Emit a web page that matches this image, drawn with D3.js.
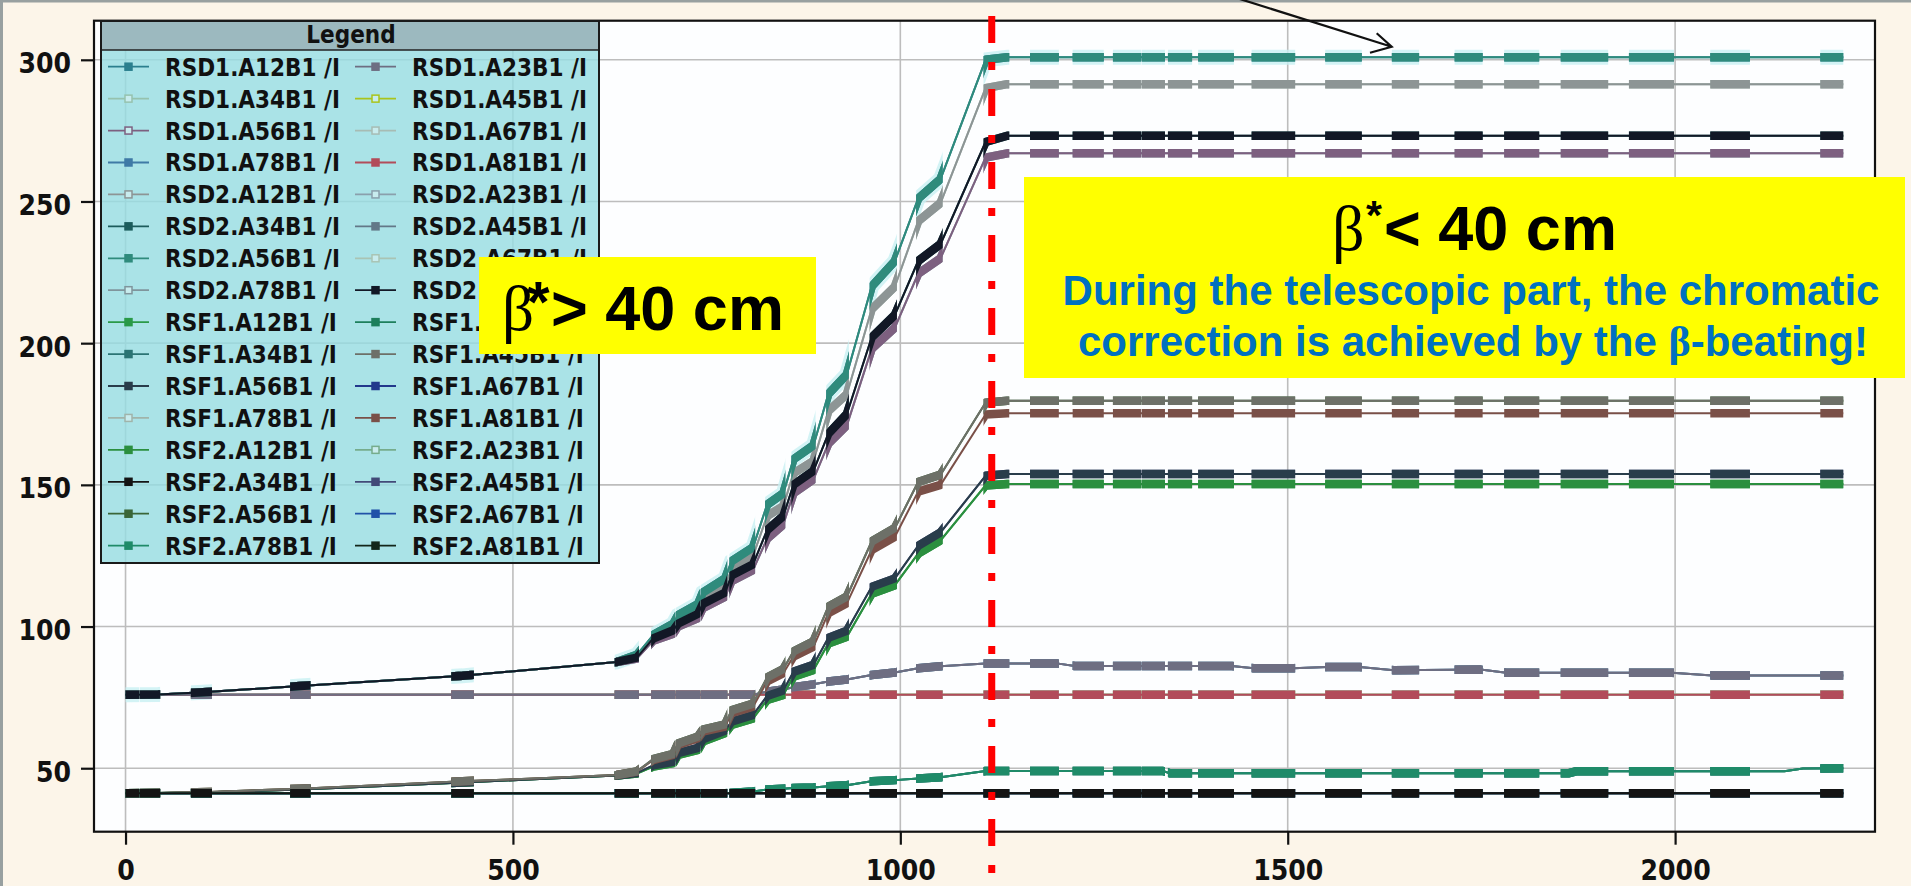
<!DOCTYPE html>
<html>
<head>
<meta charset="utf-8">
<script src="https://cdn.jsdelivr.net/npm/d3@7"></script>
<style>
  html, body { margin: 0; padding: 0; background: #fcf5e9; }
  svg { display: block; }
  .tick-label { font-family: "DejaVu Sans Condensed", "DejaVu Sans", sans-serif; font-stretch: condensed; font-weight: bold; }
</style>
</head>
<body>
<svg id="chart" width="1911" height="886"></svg>
<script>
// ---------------------------------------------------------------
// Data: sextupole circuit currents (A) versus time (s) during the squeeze
// ---------------------------------------------------------------

// time windows in which the logging samples are bunched (shown as thick marks)
const sampleBursts = [
  [-2, 15], [21, 42], [87, 109], [215, 236], [423, 447], [634, 660], [681, 707],
  [713, 739], [745, 774], [782, 810], [828, 849], [862, 888], [907, 931], [963, 993],
  [1023, 1052], [1110, 1138], [1170, 1202], [1225, 1260], [1277, 1308], [1314, 1339],
  [1348, 1374], [1387, 1428], [1456, 1507], [1551, 1593], [1637, 1667], [1718, 1749],
  [1782, 1822], [1855, 1911], [1943, 1996], [2048, 2094], [2190, 2217]
];

// current profiles [time, current]
const levelTeal = [[0,75.9],[42,76.0],[100,76.8],[225,79.0],[435,82.6],[634,87.5],[660,90],[681,97],[707,101],[713,104],[739,108],[745,112],[774,117],[782,123],[810,128],[828,143],[849,147],[862,159],[888,164],[907,182],[931,189],[963,220],[993,229],[1023,251],[1052,258],[1110,300],[1138,300.9],[2217,300.9]];
const levelGrey = [[0,75.9],[42,76.0],[100,76.8],[225,79.0],[435,82.6],[634,87.5],[660,89.5],[681,96],[707,100],[713,102.5],[739,106],[745,110],[774,114.5],[782,120],[810,125],[828,139],[849,142.5],[862,154],[888,158.5],[907,176],[931,182],[963,212],[993,220],[1023,243],[1052,249.5],[1110,290],[1138,291.4],[2217,291.4]];
const levelBlack = [[0,75.9],[42,76.0],[100,76.8],[225,79.0],[435,82.6],[634,87.5],[660,89],[681,95.8],[707,98.7],[713,101],[739,104.5],[745,108],[774,112],[782,118],[810,122],[828,134],[849,139],[862,150],[888,155],[907,168],[931,175],[963,202],[993,210],[1023,229],[1052,235],[1110,271],[1138,273.2],[2217,273.2]];
const levelMauve = [[0,75.9],[42,76.0],[100,76.8],[225,79.0],[435,82.6],[634,87.5],[660,88.7],[681,95],[707,97.5],[713,100],[739,103],[745,106.5],[774,110.5],[782,116],[810,120],[828,131],[849,136],[862,147],[888,152],[907,164.5],[931,171],[963,198],[993,205.5],[1023,224.5],[1052,230],[1110,265.5],[1138,267],[2217,267]];
const levelGreyBrown = [[0,41.2],[42,41.3],[109,41.6],[225,42.8],[340,44.2],[435,45.4],[520,46.3],[634,47.6],[660,48.9],[681,53.2],[707,55.1],[713,58.7],[739,61.2],[745,63.6],[774,65.5],[782,70.4],[810,72.8],[828,82],[849,85],[862,91.2],[888,94.8],[907,107],[931,110.6],[963,130],[993,134.8],[1023,151],[1052,153.6],[1110,179],[1138,179.7],[2217,179.7]];
const levelRedBrown = [[0,41.2],[42,41.3],[109,41.6],[225,42.8],[340,44.2],[435,45.4],[520,46.3],[634,47.6],[660,48.8],[681,52.9],[707,54.7],[713,58.2],[739,60.6],[745,62.9],[774,64.7],[782,69.4],[810,71.7],[828,80.6],[849,83.5],[862,89.4],[888,92.9],[907,104.7],[931,108.2],[963,127],[993,131.7],[1023,147.6],[1052,150],[1110,174.8],[1138,175.3],[2217,175.3]];
const levelSlate = [[0,41.2],[42,41.3],[109,41.5],[225,42.5],[340,43.8],[435,45.0],[520,46.0],[634,47.4],[660,48.3],[681,51],[707,52.3],[713,55.3],[739,57.2],[745,60.2],[774,63.3],[782,66.4],[810,68.8],[828,75.5],[849,77.4],[862,84],[888,86.5],[907,96],[931,98.5],[963,114],[993,117],[1023,128.5],[1052,133.2],[1110,153.2],[1138,153.8],[2217,153.8]];
const levelGreen = [[0,41.2],[42,41.3],[109,41.5],[225,42.5],[340,43.8],[435,45.0],[520,46.0],[634,47.4],[660,48.1],[681,50.6],[707,51.8],[713,54.7],[739,56.5],[745,59.4],[774,62.4],[782,65.3],[810,67.6],[828,74.1],[849,75.9],[862,82.3],[888,84.7],[907,94],[931,96.4],[963,111.6],[993,114.6],[1023,125.7],[1052,130.4],[1110,149.8],[1138,150.3],[2217,150.3]];
const levelHump = [[0,75.9],[810,75.9],[828,77],[849,77.8],[862,78.6],[888,79.6],[907,80.6],[931,81.3],[963,82.9],[993,83.8],[1023,85.3],[1052,86],[1110,87],[1202,87],[1225,86.1],[1428,86.1],[1456,85.3],[1507,85.3],[1551,85.7],[1593,85.7],[1637,84.6],[1749,84.8],[1782,83.7],[1996,83.7],[2048,82.7],[2217,82.7]];
const levelRed = [[0,75.9],[2217,75.9]];
const levelTealGreen = [[0,41.2],[774,41.2],[810,41.8],[828,42.5],[849,42.8],[862,43],[888,43.2],[907,43.6],[931,44],[963,45.4],[993,45.8],[1023,46.4],[1052,46.8],[1110,49],[1339,49],[1348,48.2],[1862,48.2],[1872,48.9],[2141,48.9],[2165,49.9],[2217,50]];
const levelFlat41 = [[0,41.2],[2217,41.2]];

// circuits, in legend order
const seriesNames = [
  "RSD1.A12B1 /I", "RSD1.A23B1 /I", "RSD1.A34B1 /I", "RSD1.A45B1 /I",
  "RSD1.A56B1 /I", "RSD1.A67B1 /I", "RSD1.A78B1 /I", "RSD1.A81B1 /I",
  "RSD2.A12B1 /I", "RSD2.A23B1 /I", "RSD2.A34B1 /I", "RSD2.A45B1 /I",
  "RSD2.A56B1 /I", "RSD2.A67B1 /I", "RSD2.A78B1 /I", "RSD2.A81B1 /I",
  "RSF1.A12B1 /I", "RSF1.A23B1 /I", "RSF1.A34B1 /I", "RSF1.A45B1 /I",
  "RSF1.A56B1 /I", "RSF1.A67B1 /I", "RSF1.A78B1 /I", "RSF1.A81B1 /I",
  "RSF2.A12B1 /I", "RSF2.A23B1 /I", "RSF2.A34B1 /I", "RSF2.A45B1 /I",
  "RSF2.A56B1 /I", "RSF2.A67B1 /I", "RSF2.A78B1 /I", "RSF2.A81B1 /I"
];
const seriesLevels = [
  levelTeal, levelHump, levelRed, levelRed,
  levelMauve, levelGrey, levelHump, levelRed,
  levelGrey, levelRed, levelBlack, levelHump,
  levelTeal, levelRed, levelMauve, levelBlack,
  levelGreen, levelTealGreen, levelTealGreen, levelGreyBrown,
  levelSlate, levelFlat41, levelFlat41, levelRedBrown,
  levelGreen, levelFlat41, levelFlat41, levelSlate,
  levelGreyBrown, levelFlat41, levelTealGreen, levelFlat41
];
const seriesColors = [
  "#2b7f8e", "#6e6e82", "#96c2ae", "#a9c41c",
  "#7d6080", "#a7bcb4", "#3f7aa6", "#b24c5a",
  "#8d9595", "#8aa0ac", "#1c5c5c", "#637888",
  "#2f8b7c", "#a9c4b4", "#7f959c", "#121826",
  "#2a9a48", "#1d7f5c", "#2b7474", "#6d7068",
  "#293d4b", "#22388c", "#a0b4aa", "#7a5048",
  "#2b8f3f", "#76ac8c", "#141414", "#424a78",
  "#3b6638", "#2152a8", "#1f8b69", "#13261a"
];
// circuits whose legend marker is hollow
const hollowMarkers = [
  "RSD1.A34B1 /I", "RSD1.A45B1 /I", "RSD1.A56B1 /I", "RSD1.A67B1 /I",
  "RSD2.A12B1 /I", "RSD2.A23B1 /I", "RSD2.A67B1 /I", "RSD2.A78B1 /I",
  "RSF1.A78B1 /I", "RSF2.A23B1 /I"
];
// circuits drawn last (front-most), bottom to top
const frontOrder = [
  "RSD1.A81B1 /I", "RSD1.A23B1 /I",
  "RSF2.A12B1 /I", "RSF1.A56B1 /I", "RSF1.A81B1 /I", "RSF1.A45B1 /I",
  "RSF2.A78B1 /I", "RSF2.A34B1 /I",
  "RSD1.A56B1 /I", "RSD2.A12B1 /I", "RSD2.A56B1 /I", "RSD2.A81B1 /I"
];

const xTicks = [0, 500, 1000, 1500, 2000];
const yTicks = [50, 100, 150, 200, 250, 300];
const transitionTime = 1118;   // beta* = 40 cm reached

// ---------------------------------------------------------------
// Layout
// ---------------------------------------------------------------
const W = 1911, H = 886;
const plot = { left: 94, right: 1875, top: 20.7, bottom: 831.7 };

const x = d3.scaleLinear().domain([-40.7, 2258]).range([plot.left, plot.right]);
const y = d3.scaleLinear().domain([27.6, 313.8]).range([plot.bottom, plot.top]);

const svg = d3.select("#chart");
const defs = svg.append("defs");

// page background and window edges
svg.append("rect").attr("width", W).attr("height", H).attr("fill", "#fcf5e9");
svg.append("rect").attr("x", 0).attr("y", 0).attr("width", W).attr("height", 2.5).attr("fill", "#98a0a0");
svg.append("rect").attr("x", 0).attr("y", 0).attr("width", 3).attr("height", H).attr("fill", "#98a0a0");

// plotting area
svg.append("rect")
  .attr("x", plot.left).attr("y", plot.top)
  .attr("width", plot.right - plot.left).attr("height", plot.bottom - plot.top)
  .attr("fill", "#fdfeff");

defs.append("clipPath").attr("id", "plotClip")
  .append("rect")
  .attr("x", plot.left).attr("y", plot.top)
  .attr("width", plot.right - plot.left).attr("height", plot.bottom - plot.top);

// grid
const grid = svg.append("g").attr("stroke", "#bdbdbd").attr("stroke-width", 1.6);
grid.selectAll("line.gx").data(xTicks).join("line").attr("class", "gx")
  .attr("x1", d => x(d)).attr("x2", d => x(d)).attr("y1", plot.top).attr("y2", plot.bottom);
grid.selectAll("line.gy").data(yTicks).join("line").attr("class", "gy")
  .attr("x1", plot.left).attr("x2", plot.right).attr("y1", d => y(d)).attr("y2", d => y(d));

// axes
const yAxis = d3.axisLeft(y).tickValues(yTicks).tickSize(13).tickPadding(10).tickFormat(d3.format("d"));
const xAxis = d3.axisBottom(x).tickValues(xTicks).tickSize(13).tickPadding(15).tickFormat(d3.format("d"));

const gy = svg.append("g").attr("transform", `translate(${plot.left},0)`).call(yAxis);
const gx = svg.append("g").attr("transform", `translate(0,${plot.bottom})`).call(xAxis);
[gy, gx].forEach(g => {
  g.select(".domain").remove();
  g.selectAll(".tick line").attr("stroke", "#111").attr("stroke-width", 2.2);
  g.selectAll(".tick text")
    .attr("class", "tick-label")
    .attr("fill", "#111")
    .attr("font-size", 28);
});
gy.selectAll(".tick text").attr("dy", "0.46em");

// logging bursts clip
const burstClip = defs.append("clipPath").attr("id", "burstClip");
burstClip.selectAll("rect").data(sampleBursts).join("rect")
  .attr("x", d => x(d[0]) - 2)
  .attr("width", d => x(d[1]) - x(d[0]) + 4)
  .attr("y", 0).attr("height", H);

// series
const line = d3.line().x(d => x(d[0])).y(d => y(d[1]));

const series = seriesNames.map((name, i) => ({
  name, color: seriesColors[i], values: seriesLevels[i],
  hollow: hollowMarkers.includes(name),
  z: frontOrder.indexOf(name)
}));
const drawOrder = series.slice().sort((a, b) => a.z - b.z);

const lines = svg.append("g").attr("clip-path", "url(#plotClip)");

// faint cyan glow around the highest circuit group
lines.append("path")
  .attr("d", line(levelTeal))
  .attr("fill", "none").attr("stroke", "#c8f0f3").attr("stroke-width", 15)
  .attr("clip-path", "url(#burstClip)").attr("opacity", 0.8);

drawOrder.forEach(s => {
  const g = lines.append("g");
  g.append("path")
    .attr("d", line(s.values))
    .attr("fill", "none")
    .attr("stroke", s.color)
    .attr("stroke-width", 2)
    .attr("stroke-linejoin", "round");
  g.append("path")
    .attr("d", line(s.values))
    .attr("fill", "none")
    .attr("stroke", s.color)
    .attr("stroke-width", 8.5)
    .attr("stroke-linejoin", "round")
    .attr("clip-path", "url(#burstClip)");
});

// frame
svg.append("rect")
  .attr("x", plot.left).attr("y", plot.top)
  .attr("width", plot.right - plot.left).attr("height", plot.bottom - plot.top)
  .attr("fill", "none").attr("stroke", "#111").attr("stroke-width", 2.2);

// ---------------------------------------------------------------
// Legend
// ---------------------------------------------------------------
const lg = { x: 101, y: 21, w: 498, h: 542, head: 29, row0: 66.7, rowStep: 31.93 };
const legend = svg.append("g");
legend.append("rect")
  .attr("x", lg.x).attr("y", lg.y).attr("width", lg.w).attr("height", lg.h)
  .attr("fill", "#97dde2").attr("fill-opacity", 0.82);
legend.append("rect")
  .attr("x", lg.x).attr("y", lg.y).attr("width", lg.w).attr("height", lg.head)
  .attr("fill", "#9cb9bf");
legend.append("line")
  .attr("x1", lg.x).attr("x2", lg.x + lg.w).attr("y1", lg.y + lg.head).attr("y2", lg.y + lg.head)
  .attr("stroke", "#222").attr("stroke-width", 1.5);
legend.append("rect")
  .attr("x", lg.x).attr("y", lg.y).attr("width", lg.w).attr("height", lg.h)
  .attr("fill", "none").attr("stroke", "#1a1a1a").attr("stroke-width", 2);
legend.append("text")
  .attr("x", 351).attr("y", 43)
  .attr("text-anchor", "middle")
  .attr("class", "tick-label")
  .attr("font-size", 24).attr("fill", "#111")
  .text("Legend");

const entry = legend.selectAll("g.entry").data(series).join("g").attr("class", "entry")
  .attr("transform", (d, i) => {
    const col = i % 2, row = Math.floor(i / 2);
    return `translate(${col ? 355 : 108},${lg.row0 + row * lg.rowStep})`;
  });
entry.append("line")
  .attr("x1", 0).attr("x2", 41).attr("y1", 0).attr("y2", 0)
  .attr("stroke", d => d.color).attr("stroke-width", 1.8);
entry.append("rect")
  .attr("x", 17).attr("y", -3.5).attr("width", 7).attr("height", 7)
  .attr("fill", d => d.hollow ? "#c8ecee" : d.color)
  .attr("stroke", d => d.color).attr("stroke-width", 1.5);
entry.append("text")
  .attr("x", 57).attr("y", 9)
  .attr("class", "tick-label")
  .attr("font-size", 24).attr("fill", "#111")
  .text(d => d.name);

// ---------------------------------------------------------------
// Transition marker and annotations
// ---------------------------------------------------------------
svg.append("line")
  .attr("x1", x(transitionTime)).attr("x2", x(transitionTime))
  .attr("y1", 16).attr("y2", H)
  .attr("stroke", "#ff0000").attr("stroke-width", 7)
  .attr("stroke-dasharray", "27,19,8,19");

// left box
svg.append("rect").attr("x", 479).attr("y", 257).attr("width", 337).attr("height", 97).attr("fill", "#ffff00");
const tl = svg.append("text").attr("fill", "#000");
tl.append("tspan").attr("x", 502).attr("y", 330)
  .attr("font-family", "'Liberation Serif', 'DejaVu Serif', serif").attr("font-size", 63).text("β");
tl.append("tspan").attr("x", 527).attr("y", 322)
  .attr("font-family", "'Liberation Sans', Arial, sans-serif").attr("font-weight", "bold").attr("font-size", 58).text("*");
tl.append("tspan").attr("x", 551).attr("y", 330)
  .attr("font-family", "'Liberation Sans', Arial, sans-serif").attr("font-weight", "bold").attr("font-size", 63).text("> 40 cm");

// right box
svg.append("rect").attr("x", 1024).attr("y", 177).attr("width", 881).attr("height", 201).attr("fill", "#ffff00");
const tr = svg.append("text").attr("fill", "#000");
tr.append("tspan").attr("x", 1332).attr("y", 250)
  .attr("font-family", "'Liberation Serif', 'DejaVu Serif', serif").attr("font-size", 64).text("β");
tr.append("tspan").attr("x", 1366).attr("y", 229)
  .attr("font-family", "'Liberation Sans', Arial, sans-serif").attr("font-weight", "bold").attr("font-size", 41).text("*");
tr.append("tspan").attr("x", 1384).attr("y", 250)
  .attr("font-family", "'Liberation Sans', Arial, sans-serif").attr("font-weight", "bold").attr("font-size", 63).text("< 40 cm");

const blue = svg.append("g")
  .attr("font-family", "'Liberation Sans', Arial, sans-serif")
  .attr("font-weight", "bold").attr("font-size", 42).attr("fill", "#0070c0")
  .attr("text-anchor", "middle");
blue.append("text").attr("x", 1471).attr("y", 305).text("During the telescopic part, the chromatic");
const b2 = blue.append("text").attr("x", 1473).attr("y", 356);
b2.append("tspan").text("correction is achieved by the ");
b2.append("tspan").attr("font-family", "'Liberation Serif', 'DejaVu Serif', serif").text("β");
b2.append("tspan").text("-beating!");

// arrow pointing at the top circuit group
svg.append("path")
  .attr("d", "M1229,-4.4 L1391.7,46.7 M1376.7,33.3 L1391.7,46.7 L1370,52.7")
  .attr("fill", "none").attr("stroke", "#111").attr("stroke-width", 2.2)
  .attr("stroke-linejoin", "miter");
</script>
</body>
</html>
